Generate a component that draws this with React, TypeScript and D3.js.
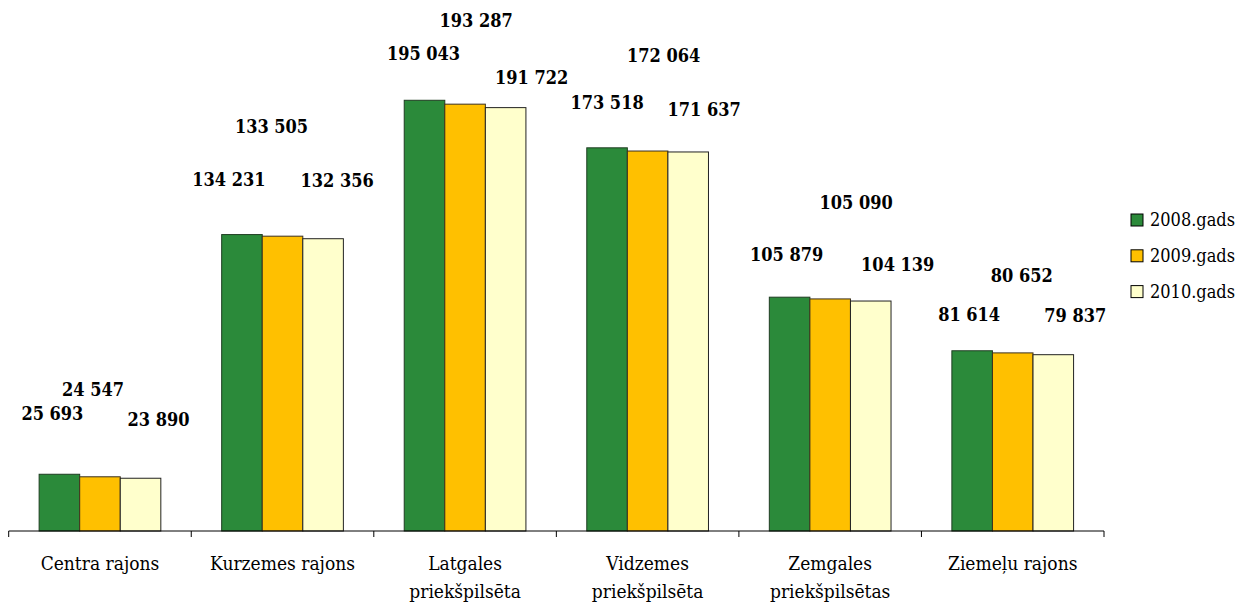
import React from 'react';
import { scaleBand, scaleLinear } from 'd3';

const categories = [
  ['Centra rajons'],
  ['Kurzemes rajons'],
  ['Latgales', 'priekšpilsēta'],
  ['Vidzemes', 'priekšpilsēta'],
  ['Zemgales', 'priekšpilsētas'],
  ['Ziemeļu rajons'],
];
const seriesNames = ['2008.gads', '2009.gads', '2010.gads'];
const values2008 = [25693, 134231, 195043, 173518, 105879, 81614];
const values2009 = [24547, 133505, 193287, 172064, 105090, 80652];
const values2010 = [23890, 132356, 191722, 171637, 104139, 79837];
const seriesValues = [values2008, values2009, values2010];
const colors = ['#2b8a3a', '#ffc000', '#ffffcc'];
const strokes = ['#1f3d22', '#3a3020', '#222222'];

// hand-placed label nudges (dx, dy from bar top), per category and series
const labelNudge = [
  [[-7, -61], [-7, -87], [18, -59]],
  [[-13, -55], [-11, -110], [14, -58]],
  [[-1, -47], [11, -84], [26, -30]],
  [[0, -45], [16, -96], [16, -42]],
  [[-3, -43], [26, -96], [27, -37]],
  [[-3, -36], [9, -77], [22, -39]],
];

const W = 1247;
const H = 605;
const baseY = 531;
const serif = '"DejaVu Serif Condensed", "DejaVu Serif", serif';

const fmt = (v: number) => String(v).replace(/\B(?=(\d{3})+(?!\d))/g, ' ');

const App = () => {
  const x = scaleBand<number>()
    .domain(categories.map((c, i) => i))
    .range([8.7, 1104]);
  const bw = x.bandwidth();
  const inner = scaleBand<number>()
    .domain([0, 1, 2])
    .range([bw / 6, (bw * 5) / 6]);
  const y = scaleLinear().domain([0, 240000]).range([baseY, 1]);

  const ticks = categories.map((c, i) => x(i)!).concat([x(categories.length - 1)! + bw]);

  return (
    <svg width={W} height={H} style={{ position: 'absolute', left: 0, top: 0, background: '#fff' }}>
      {categories.map((cat, i) => (
        <g key={i} transform={`translate(${x(i)},0)`}>
          {seriesValues.map((vals, s) => (
            <rect
              key={s}
              x={inner(s)}
              y={y(vals[i])}
              width={inner.bandwidth()}
              height={baseY - y(vals[i])}
              fill={colors[s]}
              stroke={strokes[s]}
              strokeWidth={1}
            />
          ))}
          {seriesValues.map((vals, s) => (
            <text
              key={'l' + s}
              x={inner(s)! + inner.bandwidth() / 2 + labelNudge[i][s][0]}
              y={y(vals[i]) + labelNudge[i][s][1]}
              dy="0.36em"
              textAnchor="middle"
              fontFamily={serif}
              fontWeight="bold"
              fontSize={18}
              fill="#000"
            >
              {fmt(vals[i])}
            </text>
          ))}
          {cat.map((line, k) => (
            <text
              key={'c' + k}
              x={bw / 2}
              y={563 + k * 28}
              dy="0.36em"
              textAnchor="middle"
              fontFamily={serif}
              fontSize={19}
              fill="#000"
            >
              {line}
            </text>
          ))}
        </g>
      ))}
      <line x1={ticks[0]} x2={ticks[ticks.length - 1]} y1={baseY} y2={baseY} stroke="#000" strokeWidth={1} />
      {ticks.map((t, i) => (
        <line key={i} x1={t} x2={t} y1={baseY} y2={baseY + 6} stroke="#000" strokeWidth={1} />
      ))}
      {seriesNames.map((name, s) => (
        <g key={s} transform={`translate(1131,${220 + s * 35.8})`}>
          <rect x={0} y={-6} width={12} height={12} fill={colors[s]} stroke="#000" strokeWidth={1} />
          <text x={19} y={0} dy="0.36em" fontFamily={serif} fontSize={18} fill="#000">
            {name}
          </text>
        </g>
      ))}
    </svg>
  );
};

export default App;
